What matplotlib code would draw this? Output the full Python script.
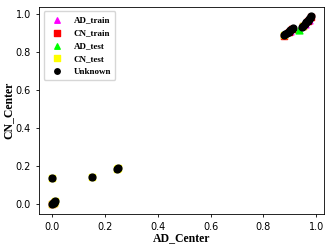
import matplotlib
matplotlib.use('Agg')
import matplotlib.pyplot as plt

# AD_Center / CN_Center coordinates
ad_train_x = [0.90, 0.957, 0.974]
ad_train_y = [0.912, 0.946, 0.97]
cn_train_x = [0.878, 0.896, 0.908, 0.951, 0.969, 0.981, 0.0, 0.006]
cn_train_y = [0.887, 0.906, 0.92, 0.938, 0.962, 0.986, 0.0, 0.008]
ad_test_x = [0.935]
ad_test_y = [0.918]
cn_test_x = [0.0, 0.0, 0.006, 0.01, 0.15, 0.245, 0.25, 0.88, 0.95]
cn_test_y = [0.14, 0.0, 0.01, 0.018, 0.145, 0.185, 0.19, 0.89, 0.94]
unk_x = [0.0, 0.0, 0.003, 0.006, 0.008, 0.01, 0.15, 0.245, 0.25,
         0.878, 0.884, 0.89, 0.896, 0.902, 0.908, 0.913,
         0.945, 0.951, 0.957, 0.963, 0.969, 0.974, 0.978, 0.981]
unk_y = [0.14, 0.0, 0.006, 0.01, 0.014, 0.018, 0.145, 0.185, 0.19,
         0.889, 0.895, 0.901, 0.908, 0.915, 0.922, 0.928,
         0.932, 0.94, 0.948, 0.956, 0.964, 0.972, 0.98, 0.988]

fig, ax = plt.subplots(figsize=(3.32, 2.49), dpi=100)
fig.subplots_adjust(left=0.118, right=0.976, top=0.972, bottom=0.141)

ax.scatter(ad_train_x, ad_train_y, c='magenta', marker='^', s=24, label='AD_train')
ax.scatter(cn_train_x, cn_train_y, c='red', marker='s', s=24, label='CN_train')
ax.scatter(ad_test_x, ad_test_y, c='lime', marker='^', s=24, label='AD_test')
ax.scatter(cn_test_x, cn_test_y, c='yellow', marker='s', s=24, label='CN_test')
ax.scatter(unk_x, unk_y, c='black', marker='o', s=24, label='Unknown')

ax.set_xticks([0.0, 0.2, 0.4, 0.6, 0.8, 1.0])
ax.set_yticks([0.0, 0.2, 0.4, 0.6, 0.8, 1.0])
ax.tick_params(labelsize=7, length=2.5, width=0.6, pad=3.5)
for s in ax.spines.values():
    s.set_linewidth(0.6)

serif = {'family': 'Liberation Serif', 'weight': 'bold', 'size': 8.5}
ax.set_xlabel('AD_Center', fontdict=serif, labelpad=0)
ax.set_ylabel('CN_Center', fontdict=serif, labelpad=1)

ax.legend(loc='upper left', prop={'family': 'Liberation Serif', 'weight': 'bold', 'size': 6.5},
          handletextpad=0.8, borderpad=0.5, labelspacing=0.5, markerscale=0.8)

fig.savefig('out.png', dpi=100)
